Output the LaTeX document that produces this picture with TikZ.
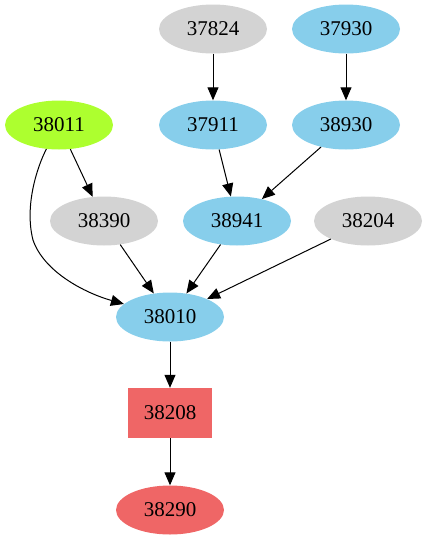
\documentclass[tikz,border=0pt]{standalone}
\usepackage{fontspec}
\setmainfont{Liberation Serif}
\usetikzlibrary{shapes.geometric,arrows.meta}
\definecolor{gv gray}{HTML}{D3D3D3}
\definecolor{gv blue}{HTML}{87CEEB}
\definecolor{gv green}{HTML}{ADFF2F}
\definecolor{gv red}{HTML}{EF6666}
\tikzset{
  ell/.style={ellipse, minimum width=108pt, minimum height=49pt, inner sep=0pt, font=\fontsize{21}{25}\selectfont},
  grayn/.style={ell, fill=gv gray},
  bluen/.style={ell, fill=gv blue},
  greenn/.style={ell, fill=gv green},
  redn/.style={ell, fill=gv red},
  redbox/.style={rectangle, minimum width=84pt, minimum height=50pt, inner sep=0pt, fill=gv red, font=\fontsize{21}{25}\selectfont},
  edge/.style={-{Triangle[length=13pt,width=11pt]}, line width=1pt, black}
}
\begin{document}
\begin{tikzpicture}[x=1pt,y=-1pt]
\useasboundingbox (0,0) rectangle (427,539);
\node[grayn]  (n37824) at (213,29) {37824};
\node[bluen]  (n37930) at (346,29) {37930};
\node[greenn] (n38011) at (59,125) {38011};
\node[bluen]  (n37911) at (213,125) {37911};
\node[bluen]  (n38930) at (346,125) {38930};
\node[grayn]  (n38390) at (104,221) {38390};
\node[bluen]  (n38941) at (237,221) {38941};
\node[grayn]  (n38204) at (368,221) {38204};
\node[bluen]  (n38010) at (170,317) {38010};
\node[redbox] (n38208) at (170,413) {38208};
\node[redn]   (n38290) at (170,510) {38290};

\draw[edge] (n37824) -- (n37911);
\draw[edge] (n37930) -- (n38930);
\draw[edge] (n38011) -- (n38390);
\draw[edge] (n38011) .. controls (38,165) and (24,205) .. (33,240) .. controls (44,272) and (85,293) .. (n38010);
\draw[edge] (n37911) -- (n38941);
\draw[edge] (n38930) -- (n38941);
\draw[edge] (n38390) -- (n38010);
\draw[edge] (n38941) -- (n38010);
\draw[edge] (n38204) -- (n38010);
\draw[edge] (n38010) -- (n38208);
\draw[edge] (n38208) -- (n38290);
\end{tikzpicture}
\end{document}
